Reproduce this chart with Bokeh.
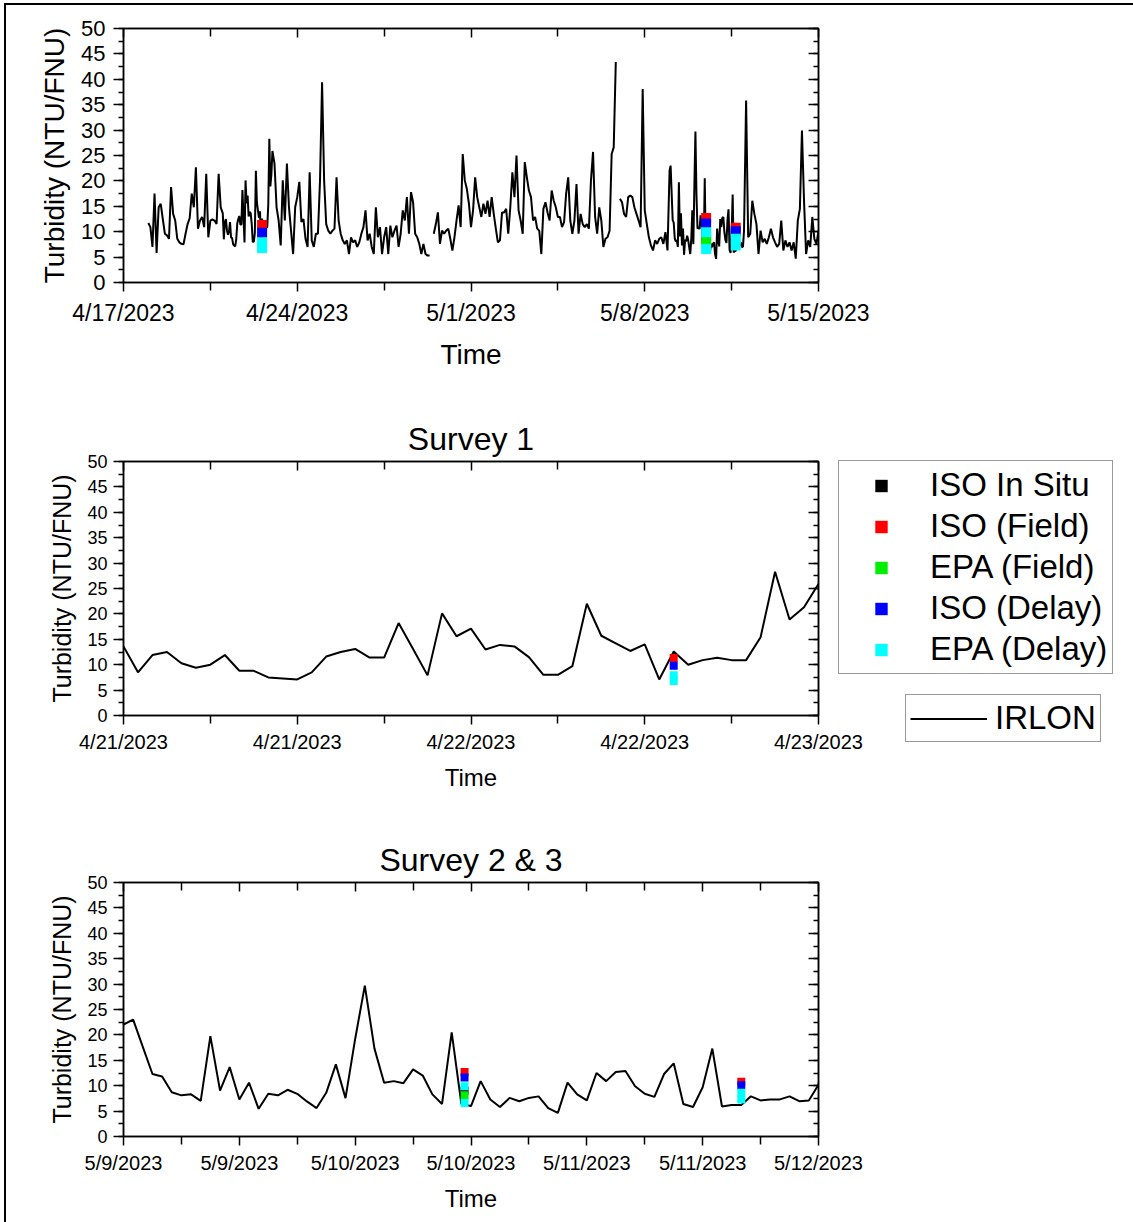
import numpy as np
import pandas as pd
from bokeh.plotting import figure
from bokeh.models import (Range1d, FixedTicker, SingleIntervalTicker, LinearAxis,
                          DatetimeAxis, CustomJSTickFormatter, Legend, LegendItem,
                          ColumnDataSource, CustomLabelingPolicy)
from bokeh.layouts import column, row
from bokeh.embed import file_html
from bokeh.resources import INLINE

FONT = "Liberation Sans"
nan = float("nan")

# ---------------- IRLON turbidity (NTU/FNU) ----------------
# 2-hourly readings, 2023-04-18 00:00 .. 2023-04-20 22:00
seg_a_values = [11.7, 10.9, 7.0, 17.5, 5.8, 14.8, 15.5, 12.5, 9.6, 9.3,
                8.6, 18.8, 13.5, 12.2, 8.6, 7.9, 7.6, 7.5, 9.6, 11.5,
                12.7, 17.5, 14.8, 22.7, 10.6, 12.2, 12.9, 10.9, 21.4, 8.9,
                12.2, 12.4, 12.2, 11.5, 21.4, 14.8]
# hourly readings, 2023-04-21 00:00 .. 2023-04-23 00:00 (Survey 1 window)
survey1_values = [13.6, 8.5, 11.9, 12.5, 10.3, 9.4, 10.0, 11.9, 8.8, 8.8,
                  7.5, 7.3, 7.1, 8.5, 11.6, 12.5, 13.1, 11.4, 11.4, 18.2,
                  13.1, 7.9, 20.1, 15.6, 17.1, 13.0, 13.9, 13.6, 11.5, 8.0,
                  8.0, 9.7, 22.0, 15.7, 14.2, 12.7, 14.0, 7.1, 12.6, 10.0,
                  10.9, 11.35, 10.9, 10.9, 15.4, 28.3, 18.9, 21.3, 25.9]
# 2-hourly readings, 2023-04-23 02:00 .. 2023-05-08 22:00
seg_b_values = [23.4, 14.8, 12.2, 7.3, 20.1, 12.2, 23.4, 14.8, 10.2, 5.6,
                14.8, 16.8, 19.8, 11.9, 12.5, 8.6, 7.0, 21.7, 8.3, 7.0,
                9.6, 9.6, 20.0, 39.4, 20.0, 11.5, 10.2, 9.6, 10.2, 10.6,
                20.7, 12.2, 9.6, 8.3, 7.6, 8.3, 5.6, 8.9, 7.9, 8.3,
                7.0, 7.9, 9.6, 10.9, 14.2, 8.3, 9.6, 7.0, 5.6, 14.8,
                8.9, 10.9, 5.6, 8.9, 10.9, 5.6, 11.2, 8.9, 10.2, 11.2,
                7.0, 9.6, 14.2, 12.2, 16.8, 9.6, 17.8, 15.8, 9.6, 8.9,
                7.6, 5.6, 7.6, 5.6, 5.3, 5.3, nan, 9.6, 11.5, 13.8,
                7.6, 10.2, 9.6, 10.2, 10.6, 8.6, 6.3, 8.9, 12.2, 15.2,
                10.9, 25.3, 20.1, 18.4, 15.5, 10.9, 14.2, 20.7, 16.8, 14.8,
                12.9, 15.5, 13.5, 16.1, 12.9, 16.8, 13.5, 10.6, 7.9, 8.3,
                13.8, 13.8, 14.5, 9.6, 14.8, 21.7, 16.8, 25.0, 14.2, 12.2,
                9.6, 23.7, 20.7, 18.1, 16.8, 12.2, 12.9, 10.6, 10.2, 5.6,
                14.5, 15.8, 13.8, 12.2, 18.1, 16.1, 14.8, 12.9, 12.9, 10.9,
                11.9, 17.5, 20.7, 12.2, 9.6, 12.2, 19.4, 9.6, 13.5, 11.5,
                10.9, 11.5, 10.6, 20.1, 25.7, 12.9, 9.6, 14.8, 12.2, 7.0,
                8.6, 8.9, 10.2, 25.3, 26.6, 43.4, nan, 16.5, 15.8, 13.5,
                12.9, 16.8, 17.1, 16.8, 14.8, 13.5, 12.2, 10.9, 38.1, 14.2,
                11.5, 8.9, 7.3, 6.3, 8.3, 7.6, 8.6, 8.9, 7.6, 9.9,
                6.3]
# hourly readings, 2023-05-09 00:00 .. 2023-05-12 00:00 (Survey 2 & 3 window)
survey23_values = [22.05, 23.0, 17.65, 12.3, 11.8, 8.7, 8.1, 8.3, 7.0, 19.75,
                   9.05, 13.65, 7.3, 10.6, 5.45, 8.4, 8.1, 9.2, 8.4, 6.9,
                   5.6, 8.6, 14.2, 7.55, 19.2, 29.7, 17.3, 10.6, 10.9, 10.5,
                   13.2, 12.0, 8.3, 6.4, 20.5, 6.4, 6.0, 10.9, 7.3, 5.8,
                   7.6, 6.95, 7.6, 7.9, 5.6, 4.65, 10.6, 8.3, 7.1, 12.5,
                   10.9, 12.7, 12.9, 9.9, 8.4, 7.8, 12.3, 14.4, 6.4, 5.8,
                   9.7, 17.3, 5.9, 6.2, 6.2, 7.9, 7.1, 7.3, 7.3, 7.9,
                   6.95, 7.1, 10.2]
# 2-hourly readings, 2023-05-12 02:00 .. 2023-05-15 00:00
seg_c_values = [35.8, 8.9, 9.6, 16.1, 13.5, 11.5, 5.6, 10.2, 7.9, 8.6,
                7.6, 8.9, 10.6, 8.9, 7.9, 7.0, 7.6, 12.2, 6.3, 8.3,
                7.0, 7.9, 6.3, 7.9, 4.7, 12.2, 14.5, 29.9, 16.1, 5.6,
                8.3, 7.0, 12.9, 8.6, 7.6, 10.2]

# ---------------- survey samples ----------------
S1 = "2023-04-22 14:00"
S2 = "2023-05-10 11:20"
S3 = "2023-05-11 16:00"
iso_insitu_t = [S2]
iso_insitu_v = [9.0]
iso_field_t = [S1, S2, S3]
iso_field_v = [11.3, 12.7, 10.8]
epa_field_t = [S2]
epa_field_v = [8.1]
iso_delay_t = [S1, S2, S3]
iso_delay_v = [9.8, 11.6, 10.1]
epa_delay_t = [S1, S1, S2, S2, S3, S3]
epa_delay_v = [7.9, 6.8, 9.9, 6.6, 8.6, 7.3]

series_names = ["ISO In Situ", "ISO (Field)", "EPA (Field)", "ISO (Delay)", "EPA (Delay)"]
series_colors = ["#000000", "#FF0000", "#00EE00", "#0000FF", "#00FFFF"]
series_t = [iso_insitu_t, iso_field_t, epa_field_t, iso_delay_t, epa_delay_t]
series_v = [iso_insitu_v, iso_field_v, epa_field_v, iso_delay_v, epa_delay_v]

# ---------------- assemble the IRLON time series ----------------
t_parts = [
    pd.date_range("2023-04-18 00:00", periods=len(seg_a_values), freq="2h"),
    pd.date_range("2023-04-21 00:00", periods=len(survey1_values), freq="h"),
    pd.date_range("2023-04-23 02:00", periods=len(seg_b_values), freq="2h"),
    pd.date_range("2023-05-09 00:00", periods=len(survey23_values), freq="h"),
    pd.date_range("2023-05-12 02:00", periods=len(seg_c_values), freq="2h"),
]
irlon_t = np.concatenate([tp.values for tp in t_parts])
irlon_v = np.array(seg_a_values + survey1_values + seg_b_values + survey23_values + seg_c_values, dtype=float)
irlon_src = ColumnDataSource(dict(t=irlon_t, v=irlon_v))


def ms(ts):
    return float(pd.Timestamp(ts).value // 10**6)


date_fmt = CustomJSTickFormatter(code="""
const d = new Date(tick);
return (d.getUTCMonth()+1) + "/" + d.getUTCDate() + "/" + d.getUTCFullYear();
""")


def mirror_kwargs(tick_major, tick_minor):
    return dict(major_label_text_font_size="1px",
                major_label_policy=CustomLabelingPolicy(code="return new Set()"),
                major_tick_in=tick_major, major_tick_out=0,
                minor_tick_in=tick_minor, minor_tick_out=0,
                major_label_standoff=0, axis_line_color="black", axis_line_width=1.5,
                major_tick_line_width=1.5, minor_tick_line_width=1.5)


def add_series(p, marker_size):
    line_r = p.line(x="t", y="v", source=irlon_src, line_color="black", line_width=2.0)
    rs = []
    for c, tt, vv in zip(series_colors, series_t, series_v):
        rs.append(p.scatter(x=[pd.Timestamp(t) for t in tt], y=vv, marker="square",
                            size=marker_size, fill_color=c, line_color=None))
    return line_r, rs


def make_fig(width, height, x0, x1, major, minor, mb_top, mb_bottom, fs, marker_size, title=None):
    p = figure(width=width, height=height, x_axis_type="datetime",
               x_range=Range1d(pd.Timestamp(x0), pd.Timestamp(x1)),
               y_range=Range1d(0, 50),
               output_backend="svg", toolbar_location=None,
               min_border_left=117, min_border_right=width - 117 - 695,
               min_border_top=mb_top, min_border_bottom=mb_bottom,
               background_fill_color="white", border_fill_color="white")
    p.outline_line_color = "black"
    p.outline_line_width = 1.5
    p.grid.visible = False
    xt = FixedTicker(ticks=[ms(t) for t in major], minor_ticks=[ms(t) for t in minor])
    yt = SingleIntervalTicker(interval=5, num_minor_ticks=2)

    xa = p.xaxis[0]
    xa.ticker = xt
    xa.formatter = date_fmt
    ya = p.yaxis[0]
    ya.ticker = yt
    for ax in (xa, ya):
        ax.axis_line_color = "black"
        ax.axis_line_width = 1.5
        ax.major_tick_line_width = 1.5
        ax.minor_tick_line_width = 1.5
        ax.major_tick_line_color = "black"
        ax.minor_tick_line_color = "black"
        ax.major_label_text_font = FONT
        ax.axis_label_text_font = FONT
        ax.axis_label_text_font_style = "normal"
        ax.major_label_text_color = "black"
        ax.axis_label_text_color = "black"
        ax.major_tick_in = 0
        ax.minor_tick_in = 0
    xa.major_tick_out = 9
    xa.minor_tick_out = 8
    ya.major_tick_out = 10
    ya.minor_tick_out = 5
    xa.axis_label = "Time"
    ya.axis_label = "Turbidity (NTU/FNU)"
    xa.major_label_text_font_size = fs["xt"]
    ya.major_label_text_font_size = fs["yt"]
    xa.axis_label_text_font_size = fs["xl"]
    ya.axis_label_text_font_size = fs["yl"]
    xa.major_label_standoff = fs["xs"]
    ya.major_label_standoff = fs["ys"]
    xa.axis_label_standoff = fs["xls"]
    ya.axis_label_standoff = fs["yls"]

    # mirrored axes with inward ticks, no labels
    p.add_layout(DatetimeAxis(ticker=xt, **mirror_kwargs(9, 8)), "above")
    p.add_layout(LinearAxis(ticker=yt, **mirror_kwargs(10, 5)), "right")

    if title:
        p.title.text = title
        p.title.align = "center"
        p.title.text_font = FONT
        p.title.text_font_size = "32px"
        p.title.text_font_style = "normal"
        p.title.text_color = "black"
        p.title.standoff = 0

    add_series(p, marker_size)
    return p


fs_top = dict(xt="23px", yt="22px", xl="28px", yl="28px", xs=8, ys=8, xls=10, yls=8)
fs_sub = dict(xt="20px", yt="18px", xl="24px", yl="25px", xs=6, ys=6, xls=8, yls=8)

# top overview
maj1 = pd.date_range("2023-04-17", "2023-05-15", freq="7D")
min1 = pd.date_range("2023-04-20 12:00", "2023-05-11 12:00", freq="7D")
p1 = make_fig(1127, 395, "2023-04-17", "2023-05-15", maj1, min1, 23, 118, fs_top, 10)

# survey 1
maj2 = pd.date_range("2023-04-21", "2023-04-23", freq="12h")
min2 = pd.date_range("2023-04-21 06:00", "2023-04-22 18:00", freq="12h")
p2 = make_fig(860, 425, "2023-04-21", "2023-04-23", maj2, min2, 61, 110, fs_sub, 8, "Survey 1")

# survey 2 & 3
maj3 = pd.date_range("2023-05-09", "2023-05-12", freq="12h")
min3 = pd.date_range("2023-05-09 06:00", "2023-05-11 18:00", freq="12h")
p3 = make_fig(1127, 397, "2023-05-09", "2023-05-12", maj3, min3, 57, 86, fs_sub, 8, "Survey 2 & 3")

# legend panel, slightly overlapping the right margin of the Survey 1 panel.
# Its ranges hold no data, so the series drawn here stay out of view and only feed the legends.
lf = figure(width=297, height=425, x_range=(0, 1), y_range=(0, 1),
            x_axis_location=None, y_axis_location=None,
            min_border_left=0, min_border_right=0, min_border_top=0, min_border_bottom=0,
            output_backend="svg", toolbar_location=None, margin=(0, 0, 0, -30))
lf.frame_align = False
p2.frame_align = False
lf.outline_line_color = None
lf.background_fill_alpha = 0
lf.border_fill_alpha = 0
lf.grid.visible = False
dline, dummy = add_series(lf, 12)

leg1 = Legend(items=[LegendItem(label=n, renderers=[r]) for n, r in zip(series_names, dummy)],
              location=(2, 151))
leg2 = Legend(items=[LegendItem(label="IRLON", renderers=[dline])], location=(69, 83))
for lg, pad, gw, st in ((leg1, 5, 74, 12), (leg2, 4, 77, 8)):
    lg.label_text_font = FONT
    lg.label_text_font_size = "33px"
    lg.label_text_color = "black"
    lg.padding = pad
    lg.margin = 0
    lg.spacing = 3
    lg.glyph_width = gw
    lg.glyph_height = 31
    lg.label_standoff = st
    lg.border_line_color = "#333333"
    lg.border_line_width = 1
    lg.background_fill_color = "white"
    lg.background_fill_alpha = 1.0
    lf.add_layout(lg)

mid = row(p2, lf)

layout = column(p1, mid, p3,
                styles={"border-left": "2px solid black", "border-top": "2px solid black"},
                margin=(3, 0, 0, 4))

open("out.html", "w").write(file_html(layout, INLINE))
